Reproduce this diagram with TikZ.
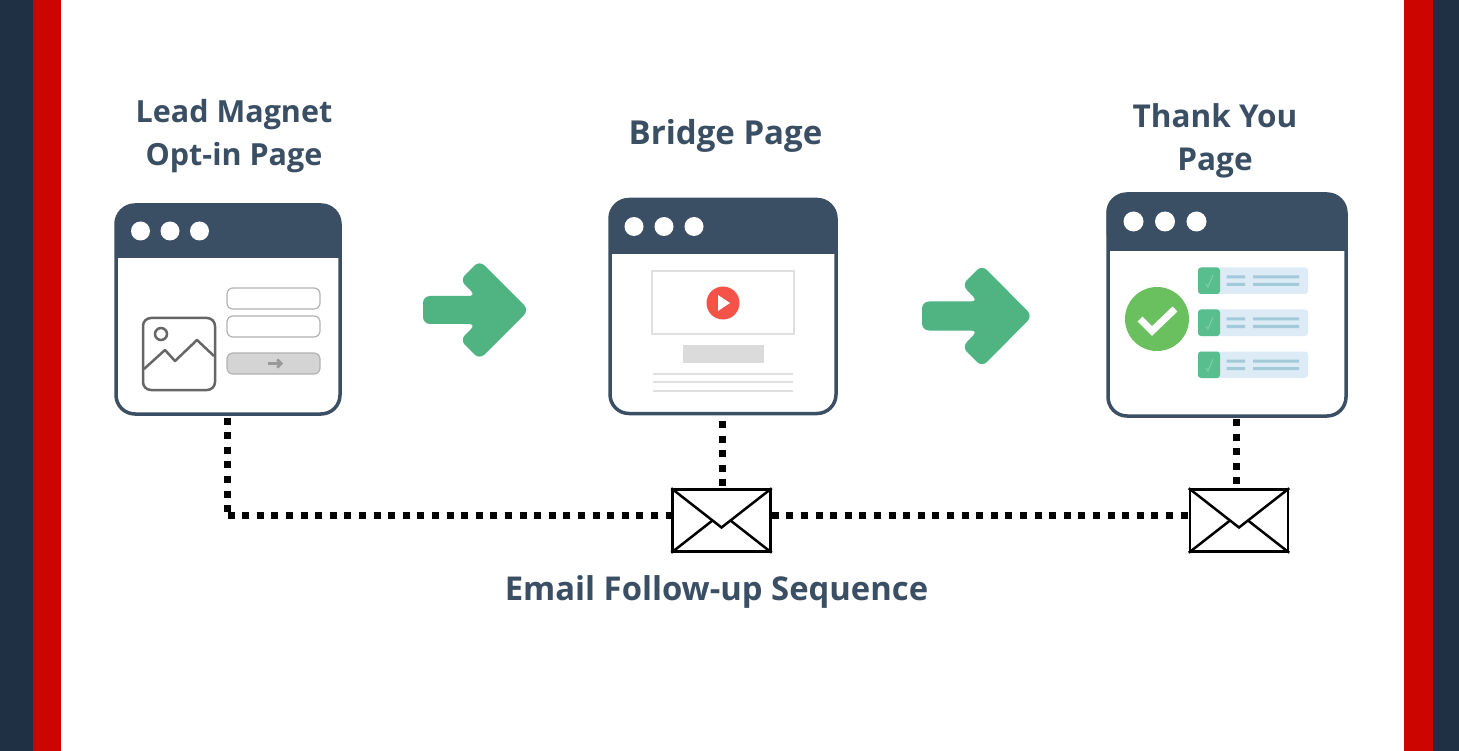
\documentclass[tikz,border=0pt]{standalone}
\usepackage{fontspec}
\usepackage{xcolor}
\setmainfont{Open Sans}
\usetikzlibrary{arrows.meta}
\definecolor{navy}{HTML}{1F3044}
\definecolor{barred}{HTML}{CC0500}
\definecolor{slate}{HTML}{3B4F64}
\definecolor{leaf}{HTML}{4FB382}
\definecolor{rowblue}{HTML}{DCEBF6}
\definecolor{rowline}{HTML}{A3CAD8}
\definecolor{rowgreen}{HTML}{58BE8E}
\definecolor{okgreen}{HTML}{6ABF5E}
\definecolor{playred}{HTML}{F5524A}
\tikzset{
    caption/.style={font=\bfseries\fontsize{#1}{43}\selectfont,text=slate,align=center,inner sep=0pt},
    window/.style={draw=slate,line width=3.5pt,rounded corners=19pt,fill=white,inner sep=0pt},
    dot/.style={fill=white,draw=none},
    mailbox/.style={draw=black,line width=2.5pt,fill=white,minimum width=98pt,minimum height=62pt,inner sep=0pt},
    mailflap/.style={black,line width=2.5pt},
    dotline/.style={black,line width=7pt,dash pattern=on 7pt off 7.6pt},
    fwdarrow/.style={fill=leaf,rounded corners=7pt},
    photo/.style={draw=black!60,line width=2.5pt,rounded corners=8pt},
    field/.style={draw=black!30,line width=1.2pt,rounded corners=6pt,fill=white},
}
\begin{document}
\begin{tikzpicture}[x=1pt,y=-1pt]
    \useasboundingbox (0,0) rectangle (1459,751);
    % side bars
    \fill[white] (0,0) rectangle (1459,751);
    \fill[navy] (0,0) rectangle (33,751);
    \fill[barred] (33,0) rectangle (61,751);
    \fill[barred] (1404,0) rectangle (1433,751);
    \fill[navy] (1433,0) rectangle (1459,751);

    % first window
    \node[window,minimum width=224pt,minimum height=209pt] (win1) at (228,309.5) {};
    \fill[slate,rounded corners=19pt] (115.5,204) rectangle (340.5,258);
    \fill[slate] (115.5,235) rectangle (340.5,258);
    \fill[dot] (140.5,231) circle (9.5);
    \fill[dot] (170,231) circle (9.5);
    \fill[dot] (199.5,231) circle (9.5);
    \draw[photo] (143,318) rectangle (215,390);
    \draw[black!60,line width=2.5pt] (161,334) circle (6);
    \draw[black!60,line width=2.5pt,line join=round] (144,369) -- (165,350) -- (175,361) -- (197,340) -- (214,356);
    \draw[field] (227,288) rectangle (320,309);
    \draw[field] (227,316) rectangle (320,337);
    \draw[field,fill=black!17] (227,353) rectangle (320,374);
    \draw[black!40,line width=2.5pt,-{Straight Barb[length=4pt,width=8pt]}] (268,363.5) -- (283,363.5);

    % second window
    \node[window,minimum width=226pt,minimum height=214pt] (win2) at (723,306.5) {};
    \fill[slate,rounded corners=19pt] (609,199) rectangle (837,254);
    \fill[slate] (609,230) rectangle (837,254);
    \fill[dot] (634,226.5) circle (9.5);
    \fill[dot] (664,226.5) circle (9.5);
    \fill[dot] (694,226.5) circle (9.5);
    \draw[black!12,line width=2pt] (652,271.5) rectangle (794,334);
    \fill[playred] (723,303) circle (16.5);
    \fill[white] (718,295) -- (730,303) -- (718,311) -- cycle;
    \fill[black!14] (682.5,345) rectangle (764,362.5);
    \draw[black!12,line width=2pt] (653,373.5) -- (793,373.5);
    \draw[black!12,line width=2pt] (653,382) -- (793,382);
    \draw[black!12,line width=2pt] (653,391) -- (793,391);

    % third window
    \node[window,minimum width=238pt,minimum height=222pt] (win3) at (1227,305) {};
    \fill[slate,rounded corners=19pt] (1106.5,193) rectangle (1347,251);
    \fill[slate] (1106.5,225) rectangle (1347,251);
    \fill[dot] (1133.5,221.5) circle (10);
    \fill[dot] (1165,221.5) circle (10);
    \fill[dot] (1196.5,221.5) circle (10);
    \fill[okgreen] (1157,319) circle (32);
    \draw[white,line width=7pt] (1140,319) -- (1152,331) -- (1175,309);
    \fill[rowblue,rounded corners=3pt] (1198,267.5) rectangle (1308,294);
    \fill[rowgreen,rounded corners=3pt] (1198,267.5) rectangle (1220,294);
    \draw[white,opacity=.25,line width=1pt] (1206,284) -- (1208,287) -- (1213,275);
    \fill[rowline] (1226.5,275.5) rectangle (1245,278.5) (1226.5,283) rectangle (1245,286) (1253,275.5) rectangle (1299,278.5) (1253,283) rectangle (1299,286);
    \fill[rowblue,rounded corners=3pt] (1198,309.5) rectangle (1308,336);
    \fill[rowgreen,rounded corners=3pt] (1198,309.5) rectangle (1220,336);
    \draw[white,opacity=.25,line width=1pt] (1206,326) -- (1208,329) -- (1213,317);
    \fill[rowline] (1226.5,317.5) rectangle (1245,320.5) (1226.5,325) rectangle (1245,328) (1253,317.5) rectangle (1299,320.5) (1253,325) rectangle (1299,328);
    \fill[rowblue,rounded corners=3pt] (1198,351.5) rectangle (1308,378);
    \fill[rowgreen,rounded corners=3pt] (1198,351.5) rectangle (1220,378);
    \draw[white,opacity=.25,line width=1pt] (1206,368) -- (1208,371) -- (1213,359);
    \fill[rowline] (1226.5,359.5) rectangle (1245,362.5) (1226.5,367) rectangle (1245,370) (1253,359.5) rectangle (1299,362.5) (1253,367) rectangle (1299,370);

    % green arrows
    \fill[fwdarrow] (423,296) -- (476,296) -- (460,280) -- (479.5,260.5) -- (529,310) -- (479.5,359.5) -- (460,340) -- (476,324) -- (423,324) -- cycle;
    \fill[fwdarrow] (922,301.5) -- (978,301.5) -- (962,285) -- (982,265) -- (1032.5,316) -- (982,367) -- (962,347) -- (978,330.5) -- (922,330.5) -- cycle;

    % mail
    \node[mailbox] (mail1) at (721.5,520.5) {};
    \node[mailbox] (mail2) at (1239,520.5) {};
    \draw[mailflap] (mail1.north west) -- ([yshift=-7pt]mail1.center) -- (mail1.north east);
    \draw[mailflap] (mail1.south west) -- ([xshift=-9pt]mail1.center);
    \draw[mailflap] (mail1.south east) -- ([xshift=9pt]mail1.center);
    \draw[mailflap] (mail2.north west) -- ([yshift=-7pt]mail2.center) -- (mail2.north east);
    \draw[mailflap] (mail2.south west) -- ([xshift=-9pt]mail2.center);
    \draw[mailflap] (mail2.south east) -- ([xshift=9pt]mail2.center);

    % dotted connectors
    \coordinate (corner1) at (227.5,515);
    \coordinate (drop1) at (227.5,417.5);
    \coordinate (drop2) at (722,421);
    \coordinate (drop3) at (1236.5,419);
    \draw[dotline] (drop1) -- (corner1);
    \draw[dotline] (corner1) -- (corner1 -| mail1.west);
    \draw[dotline] (drop2) -- (drop2 |- mail1.north);
    \draw[dotline] (mail1.east |- corner1) -- (mail2.west |- corner1);
    \draw[dotline] (drop3) -- (drop3 |- mail2.north);

    % captions
    \node[caption=30.5] (cap1) at (234,136) {Lead Magnet\\Opt-in Page};
    \node[caption=33] (cap2) at (725.5,136) {Bridge Page};
    \node[caption=31.5] (cap3) at (1215,141) {Thank You\\Page};
    \node[caption=32.8] (cap4) at (716.5,592) {Email Follow-up Sequence};
\end{tikzpicture}
\end{document}
